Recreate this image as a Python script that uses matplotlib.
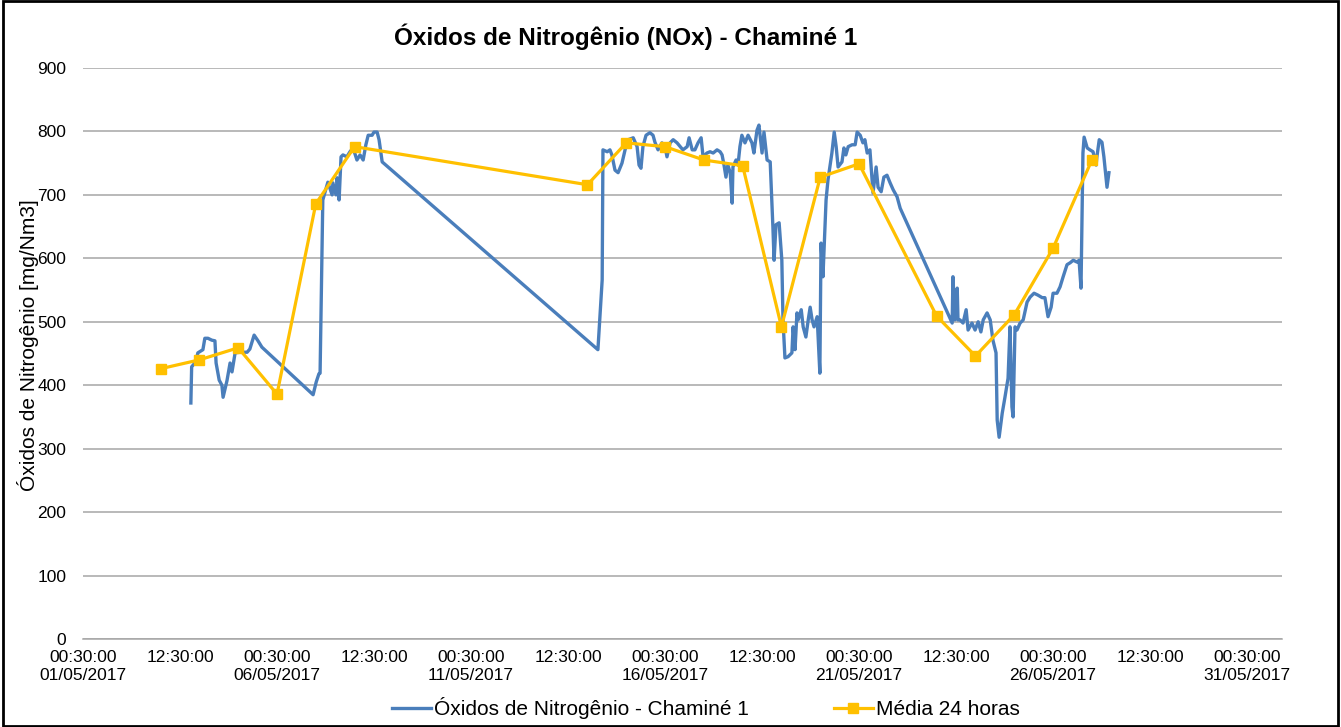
import matplotlib
matplotlib.use('Agg')
import matplotlib.pyplot as plt
import matplotlib.dates as mdates
import pandas as pd
from matplotlib.patches import Rectangle

plt.rcParams['font.family'] = ['Liberation Sans', 'DejaVu Sans']

start = pd.Timestamp('2017-05-01 00:30:00')

# hourly series, days counted from 01/05/2017 00:30
nox_days = [2.78, 2.80, 2.91, 2.96, 3.09, 3.14, 3.22, 3.32, 3.40, 3.43, 3.51, 3.58, 3.61, 3.71,
            3.79, 3.84, 3.92, 4.05, 4.23, 4.30, 4.41, 4.51, 4.61, 5.93, 6.01, 6.08, 6.11, 6.18,
            6.24, 6.31, 6.42, 6.44, 6.52, 6.55, 6.60, 6.65, 6.70, 6.80, 6.88, 6.96, 7.06, 7.14,
            7.22, 7.29, 7.35, 7.45, 7.50, 7.58, 7.63, 7.71,
            13.27, 13.38, 13.40, 13.51, 13.58, 13.63, 13.71, 13.79, 13.89, 13.97, 14.05, 14.18,
            14.28, 14.33, 14.38, 14.43, 14.51, 14.61, 14.69, 14.74, 14.82, 14.92, 15.00, 15.05,
            15.13, 15.21, 15.31, 15.39, 15.46, 15.57, 15.62, 15.70, 15.77, 15.85, 15.93, 15.98,
            16.08, 16.16, 16.24, 16.34, 16.42, 16.47, 16.52, 16.57, 16.62, 16.68, 16.73, 16.75,
            16.83, 16.88, 16.93, 16.98, 17.06, 17.14, 17.24, 17.29, 17.37, 17.42, 17.50, 17.55,
            17.63, 17.71, 17.78, 17.81, 17.86, 17.94, 18.01, 18.04, 18.09, 18.17, 18.27, 18.30,
            18.35, 18.40, 18.43, 18.51, 18.56, 18.63, 18.69, 18.74, 18.79, 18.84, 18.92, 18.94,
            18.99, 19.02, 19.07, 19.15, 19.20, 19.30, 19.36, 19.41, 19.46, 19.56, 19.61, 19.66,
            19.72, 19.82, 19.90, 19.95, 20.03, 20.10, 20.15, 20.21, 20.28, 20.36, 20.44, 20.49,
            20.57, 20.64, 20.72, 20.80, 20.88, 20.98, 21.06,
            22.40, 22.42, 22.47, 22.53, 22.55, 22.60, 22.68, 22.76, 22.81, 22.91, 22.99, 23.07,
            23.14, 23.20, 23.30, 23.38, 23.45, 23.53, 23.56, 23.61, 23.69, 23.76, 23.84, 23.89,
            23.94, 23.97, 24.02, 24.07, 24.15, 24.23, 24.33, 24.41, 24.51, 24.61, 24.72, 24.79,
            24.87, 24.95, 25.00, 25.10, 25.18, 25.26, 25.36, 25.44, 25.52, 25.62, 25.67, 25.72,
            25.77, 25.80, 25.88, 25.95, 26.03, 26.11, 26.13, 26.19, 26.26, 26.31, 26.39, 26.44]
nox_vals = [372, 429, 437, 451, 456, 474, 474, 471, 470, 435, 408, 400, 381, 407,
            435, 421, 451, 452, 452, 457, 479, 470, 460, 385, 405, 418, 419, 692,
            705, 720, 700, 719, 700, 727, 692, 760, 763, 760, 768, 774, 755, 763,
            755, 779, 794, 794, 799, 799, 787, 752,
            456, 566, 771, 768, 771, 763, 739, 735, 750, 771, 787, 790,
            776, 747, 742, 776, 794, 798, 794, 783, 771, 782, 776, 760,
            782, 787, 782, 776, 771, 776, 790, 771, 771, 782, 790, 760,
            766, 768, 766, 771, 768, 763, 747, 728, 747, 735, 687, 744,
            755, 747, 776, 794, 782, 794, 782, 766, 802, 810, 766, 799,
            755, 752, 649, 597, 653, 656, 597, 503, 443, 445, 451, 492,
            456, 514, 503, 519, 492, 476, 503, 523, 503, 492, 508, 482,
            419, 624, 571, 692, 724, 766, 799, 776, 744, 752, 774, 763,
            776, 779, 779, 799, 794, 782, 787, 766, 771, 703, 744, 712,
            705, 728, 731, 719, 708, 697, 679,
            498, 571, 503, 553, 503, 503, 498, 519, 487, 498, 487, 500,
            484, 503, 514, 503, 471, 451, 345, 318, 356, 381, 411, 492,
            366, 350, 492, 487, 498, 503, 531, 539, 545, 542, 538, 538,
            508, 523, 545, 545, 555, 571, 590, 593, 597, 594, 597, 553,
            766, 791, 774, 771, 768, 747, 760, 787, 783, 760, 712, 735]

# daily means
media_days = [2, 3, 4, 5, 6, 7, 13, 14, 15, 16, 17, 18, 19, 20, 22, 23, 24, 25, 26]
media_vals = [426, 440, 459, 386, 686, 776, 716, 782, 776, 755, 746, 492, 728, 749,
              509, 446, 511, 616, 755]

tick_times = ['2017-05-01 00:30', '2017-05-03 12:30', '2017-05-06 00:30', '2017-05-08 12:30',
              '2017-05-11 00:30', '2017-05-13 12:30', '2017-05-16 00:30', '2017-05-18 12:30',
              '2017-05-21 00:30', '2017-05-23 12:30', '2017-05-26 00:30', '2017-05-28 12:30',
              '2017-05-31 00:30']
tick_labels = ['00:30:00\n01/05/2017', '12:30:00', '00:30:00\n06/05/2017', '12:30:00',
               '00:30:00\n11/05/2017', '12:30:00', '00:30:00\n16/05/2017', '12:30:00',
               '00:30:00\n21/05/2017', '12:30:00', '00:30:00\n26/05/2017', '12:30:00',
               '00:30:00\n31/05/2017']

nox_t = start + pd.to_timedelta(nox_days, unit='D')
media_t = start + pd.to_timedelta(media_days, unit='D')

fig = plt.figure(figsize=(13.41, 7.27), dpi=100)
ax = fig.add_axes([83 / 1341, 1 - 639 / 727, (1282 - 83) / 1341, (639 - 68) / 727])

ax.plot(nox_t, nox_vals, color='#4a7ebb', lw=2.4, label='Óxidos de Nitrogênio - Chaminé 1',
        solid_joinstyle='round', zorder=3)
ax.plot(media_t, media_vals, color='#ffc000', lw=2.3, marker='s', ms=7,
        label='Média 24 horas', zorder=4)

ax.set_ylim(0, 900)
ax.set_yticks(range(0, 901, 100))
ax.set_xlim(start, start + pd.Timedelta(days=30.9))
ax.set_xticks(pd.to_datetime(tick_times))
ax.set_xticklabels(tick_labels)

ax.grid(axis='y', color='#a6a6a6', lw=1.1)
ax.set_axisbelow(True)
for s in ['top', 'right', 'left']:
    ax.spines[s].set_visible(False)
ax.spines['bottom'].set_color('#a6a6a6')
ax.spines['bottom'].set_linewidth(1.1)
ax.tick_params(axis='both', length=0, labelsize=12.5)
ax.tick_params(axis='x', pad=8)
ax.tick_params(axis='y', pad=12)

fig.text(626 / 1341, 1 - 37 / 727, 'Óxidos de Nitrogênio (NOx) - Chaminé 1',
         ha='center', va='center', fontsize=17.5, fontweight='bold')
fig.text(28 / 1341, 1 - 345 / 727, 'Óxidos de Nitrogênio [mg/Nm3]',
         ha='center', va='center', rotation=90, fontsize=15)

fig.legend(loc='center', bbox_to_anchor=(706 / 1341, 1 - 708 / 727), ncol=2, frameon=False,
           fontsize=15, handlelength=1.85, handletextpad=0.15, columnspacing=4.1)

fig.add_artist(Rectangle((0.002, 0.002), 0.996, 0.996, transform=fig.transFigure,
                         fill=False, edgecolor='black', lw=2))

fig.savefig('out.png', dpi=100)
